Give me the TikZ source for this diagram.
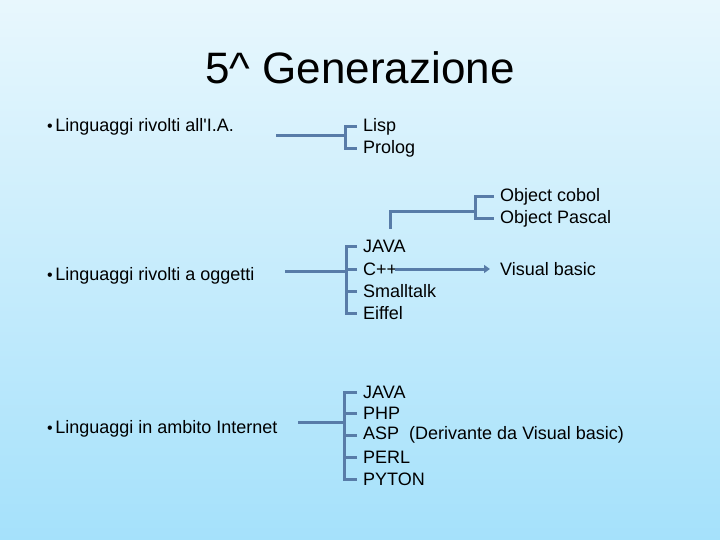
\documentclass[tikz,border=0pt]{standalone}
\usepackage{fontspec}
\setmainfont{Liberation Sans}
\usepackage{textcomp}
\usetikzlibrary{arrows.meta}

\definecolor{bgtop}{RGB}{232,247,253}
\definecolor{bgbot}{RGB}{165,225,251}
\definecolor{linkblue}{RGB}{88,124,168}

\newcommand{\smallbul}{{\fontsize{16}{16}\selectfont\textbullet}\hspace{2.5pt}}

\tikzset{
  topic/.style={anchor=west, inner sep=0pt, font=\fontsize{18}{20}\selectfont},
  item/.style={anchor=west, inner xsep=6pt, inner ysep=1pt, font=\fontsize{18}{20}\selectfont},
  link/.style={draw=linkblue, line width=3pt},
}

\begin{document}
\begin{tikzpicture}[x=1pt,y=-1pt]
          % Background
          \shade[top color=bgtop, bottom color=bgbot] (0,0) rectangle (720,540);
          \useasboundingbox (0,0) rectangle (720,540);

          % Title
          \node (title) at (360,68) {\fontsize{44}{50}\selectfont 5\textasciicircum{} Generazione};

          % Linguaggi per l'I.A.
          \node[topic] (ia) at (47,127) {\smallbul Linguaggi rivolti all\textquotesingle I.A.};
          \node[item] (lisp) at (357,127) {Lisp};
          \node[item] (prolog) at (357,149) {Prolog};
          \coordinate (iaL) at (276,136);
          \coordinate (iaB) at (345,136);
          \draw[link] (iaL) -- (iaB);
          \draw[link] (lisp.west) -- (lisp.west -| iaB) -- (prolog.west -| iaB) -- (prolog.west);

          % Object cobol e Object Pascal
          \node[item] (ocobol) at (494,197) {Object cobol};
          \node[item] (opascal) at (494,219) {Object Pascal};
          \coordinate (objD) at (390,229);
          \coordinate (objC) at (390,212);
          \coordinate (objB) at (475,212);
          \draw[link] (objD) -- (objC) -- (objB);
          \draw[link] (ocobol.west) -- (ocobol.west -| objB) -- (opascal.west -| objB) -- (opascal.west);

          % Linguaggi ad oggetti
          \node[topic] (oo) at (47,276) {\smallbul Linguaggi rivolti a oggetti};
          \node[item] (java) at (357,246) {JAVA};
          \node[item] (cpp) at (357,269) {C++};
          \node[item] (smalltalk) at (357,291) {Smalltalk};
          \node[item] (eiffel) at (357,313) {Eiffel};
          \coordinate (ooL) at (285,271);
          \coordinate (ooB) at (346,271);
          \draw[link] (ooL) -- (ooB);
          \draw[link] (java.west) -- (java.west -| ooB) -- (eiffel.west -| ooB) -- (eiffel.west);
          \draw[link] (cpp.west) -- (cpp.west -| ooB);
          \draw[link] (smalltalk.west) -- (smalltalk.west -| ooB);

          % C++ verso Visual basic
          \node[item] (visual) at (494,269) {Visual basic};
          \draw[link, -{Triangle[length=6pt,width=8pt]}] ([xshift=-8pt]cpp.east) -- ([xshift=-4pt]visual.west);

          % Linguaggi per Internet
          \node[topic] (web) at (47,429) {\smallbul Linguaggi in ambito Internet};
          \node[item] (java2) at (357,392) {JAVA};
          \node[item] (php) at (357,413) {PHP};
          \node[item] (asp) at (357,435) {ASP\ \ (Derivante da Visual basic)};
          \node[item] (perl) at (357,457) {PERL};
          \node[item] (pyton) at (357,479) {PYTON};
          \coordinate (webL) at (298,422);
          \coordinate (webB) at (344,422);
          \draw[link] (webL) -- (webB);
          \draw[link] (java2.west) -- (java2.west -| webB) -- (pyton.west -| webB) -- (pyton.west);
          \draw[link] (php.west) -- (php.west -| webB);
          \draw[link] (asp.west) -- (asp.west -| webB);
          \draw[link] (perl.west) -- (perl.west -| webB);

        \end{tikzpicture}
\end{document}
